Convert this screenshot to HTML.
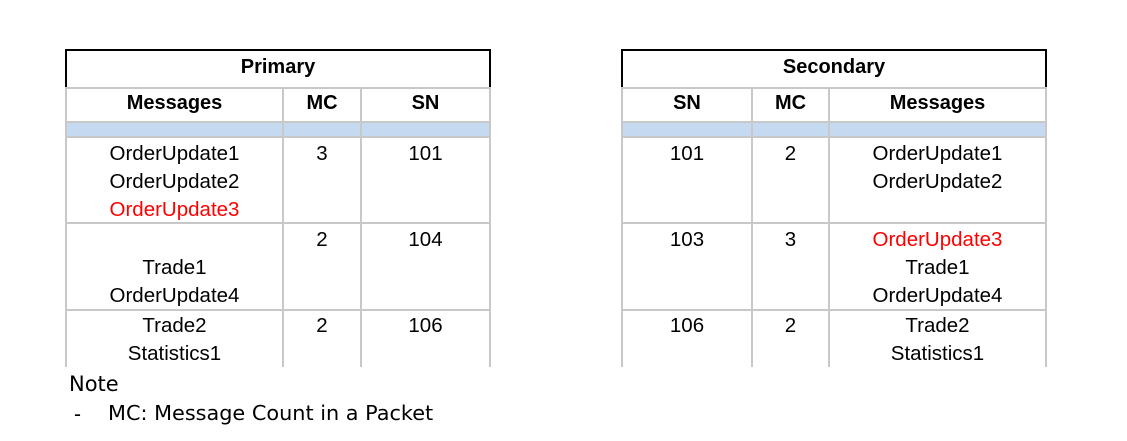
<!DOCTYPE html>
<html><head><meta charset="utf-8"><style>
body{margin:0;width:1127px;height:441px;background:#fff;position:relative;overflow:hidden;font-family:"Liberation Sans",Arial,sans-serif;color:#000}
.a{position:absolute}
.h{position:absolute;height:2px;background:#c8c8c8}
.v{position:absolute;width:2px;background:#c8c8c8}
.b{position:absolute;background:#000}
.t{position:absolute;text-align:center;font-size:20.5px;line-height:28px}
.hd{font-weight:bold;font-size:20px}
.blue{position:absolute;background:#c5d9f1}
.red{color:#f00}
</style></head><body>
<div>
<div class="blue" style="left:66px;top:122px;width:424px;height:15px"></div>
<div class="b" style="left:66px;top:49px;width:425px;height:2px"></div>
<div class="b" style="left:65px;top:49px;width:2px;height:39px"></div>
<div class="b" style="left:489px;top:49px;width:2px;height:39px"></div>
<div class="h" style="left:66px;top:87px;width:425px"></div>
<div class="h" style="left:66px;top:121px;width:425px"></div>
<div class="h" style="left:66px;top:136px;width:425px"></div>
<div class="h" style="left:66px;top:222px;width:425px"></div>
<div class="h" style="left:66px;top:309px;width:425px"></div>
<div class="v" style="left:65px;top:87px;height:280px"></div>
<div class="v" style="left:282px;top:87px;height:280px"></div>
<div class="v" style="left:360px;top:87px;height:280px"></div>
<div class="v" style="left:489px;top:87px;height:280px"></div>
<div class="t hd" style="left:66px;top:53px;width:424px">Primary</div>
<div class="t hd" style="left:66px;top:89px;width:217px">Messages</div>
<div class="t hd" style="left:283px;top:89px;width:78px">MC</div>
<div class="t hd" style="left:361px;top:89px;width:129px">SN</div>
<div class="t" style="left:66px;top:140px;width:217px">OrderUpdate1<br>OrderUpdate2<br><span class="red">OrderUpdate3</span></div>
<div class="t" style="left:283px;top:140px;width:78px">3</div>
<div class="t" style="left:361px;top:140px;width:129px">101</div>
<div class="t" style="left:66px;top:254px;width:217px">Trade1<br>OrderUpdate4</div>
<div class="t" style="left:283px;top:226px;width:78px">2</div>
<div class="t" style="left:361px;top:226px;width:129px">104</div>
<div class="t" style="left:66px;top:312px;width:217px">Trade2<br>Statistics1</div>
<div class="t" style="left:283px;top:312px;width:78px">2</div>
<div class="t" style="left:361px;top:312px;width:129px">106</div>
</div>
<div>
<div class="blue" style="left:622px;top:122px;width:424px;height:15px"></div>
<div class="b" style="left:622px;top:49px;width:425px;height:2px"></div>
<div class="b" style="left:621px;top:49px;width:2px;height:39px"></div>
<div class="b" style="left:1045px;top:49px;width:2px;height:39px"></div>
<div class="h" style="left:622px;top:87px;width:425px"></div>
<div class="h" style="left:622px;top:121px;width:425px"></div>
<div class="h" style="left:622px;top:136px;width:425px"></div>
<div class="h" style="left:622px;top:222px;width:425px"></div>
<div class="h" style="left:622px;top:309px;width:425px"></div>
<div class="v" style="left:621px;top:87px;height:280px"></div>
<div class="v" style="left:751px;top:87px;height:280px"></div>
<div class="v" style="left:828px;top:87px;height:280px"></div>
<div class="v" style="left:1045px;top:87px;height:280px"></div>
<div class="t hd" style="left:622px;top:53px;width:424px">Secondary</div>
<div class="t hd" style="left:622px;top:89px;width:130px">SN</div>
<div class="t hd" style="left:752px;top:89px;width:77px">MC</div>
<div class="t hd" style="left:829px;top:89px;width:217px">Messages</div>
<div class="t" style="left:622px;top:140px;width:130px">101</div>
<div class="t" style="left:752px;top:140px;width:77px">2</div>
<div class="t" style="left:829px;top:140px;width:217px">OrderUpdate1<br>OrderUpdate2</div>
<div class="t" style="left:622px;top:226px;width:130px">103</div>
<div class="t" style="left:752px;top:226px;width:77px">3</div>
<div class="t" style="left:829px;top:226px;width:217px"><span class="red">OrderUpdate3</span><br>Trade1<br>OrderUpdate4</div>
<div class="t" style="left:622px;top:312px;width:130px">106</div>
<div class="t" style="left:752px;top:312px;width:77px">2</div>
<div class="t" style="left:829px;top:312px;width:217px">Trade2<br>Statistics1</div>
</div>
<div class="a" style="left:69px;top:372px;font-size:21px;font-family:'DejaVu Sans','Liberation Sans',sans-serif">Note</div>
<div class="a" style="left:74px;top:403px;font-size:21px">-</div>
<div class="a" style="left:108px;top:401px;font-size:20.8px;font-family:'DejaVu Sans','Liberation Sans',sans-serif">MC: Message Count in a Packet</div>
</body></html>
